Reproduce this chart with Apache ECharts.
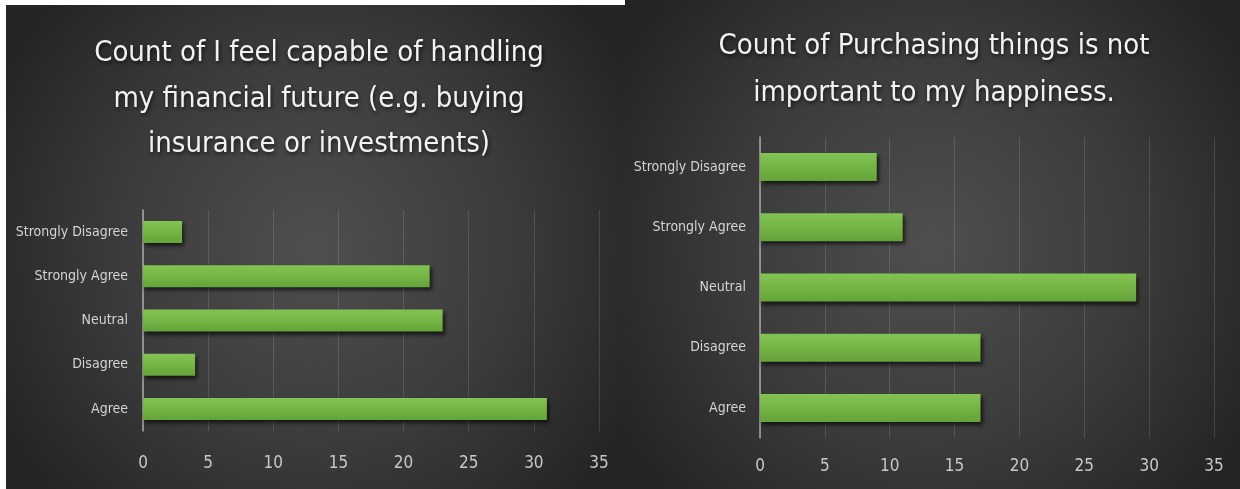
<!DOCTYPE html>
<html>
<head>
<meta charset="utf-8">
<script src="https://cdn.jsdelivr.net/npm/echarts@6/dist/echarts.min.js"></script>
<style>
  html, body { margin: 0; padding: 0; background: #ffffff; }
  #chart { width: 1240px; height: 489px; }
</style>
</head>
<body>
<div id="chart"></div>
<script>
// Survey answer categories (bottom to top on the axis)
const categories = ['Agree', 'Disagree', 'Neutral', 'Strongly Agree', 'Strongly Disagree'];

// Counts for "I feel capable of handling my financial future"
const capableCounts = [31, 4, 23, 22, 3];

// Counts for "Purchasing things is not important to my happiness."
const purchasingCounts = [17, 17, 29, 11, 9];

// Value-axis tick labels
const tickLabels = ['0', '5', '10', '15', '20', '25', '30', '35'];

const leftTitle = 'Count of I feel capable of handling\nmy financial future (e.g. buying\ninsurance or investments)';
const rightTitle = 'Count of Purchasing things is not\nimportant to my happiness.';

const narrow = '"DejaVu Sans Condensed", sans-serif';

const panelFill = {
  type: 'radial', x: 0.5, y: 0.5, r: 0.75,
  colorStops: [
    { offset: 0, color: '#4f4f4f' },
    { offset: 0.55, color: '#3b3b3b' },
    { offset: 1, color: '#242424' }
  ]
};

const barFill = {
  type: 'linear', x: 0, y: 0, x2: 0, y2: 1,
  colorStops: [
    { offset: 0, color: '#82c453' },
    { offset: 0.5, color: '#74b545' },
    { offset: 1, color: '#64a338' }
  ]
};

function valueAxis(gridIndex, margin) {
  return {
    type: 'value', gridIndex: gridIndex, min: 0, max: 35, interval: 5,
    axisLine: { show: false }, axisTick: { show: false },
    splitLine: { show: true, lineStyle: { color: 'rgba(255,255,255,0.13)', width: 1 } },
    axisLabel: {
      color: '#c8c8c8', fontFamily: narrow, fontSize: 17, margin: margin,
      formatter: function (v) { return tickLabels[Math.round(v / 5)]; }
    }
  };
}

function categoryAxis(gridIndex, margin, size) {
  return {
    type: 'category', gridIndex: gridIndex, data: categories,
    axisLine: { show: true, lineStyle: { color: '#a8a8a8', width: 1.5 } },
    axisTick: { show: false },
    axisLabel: { color: '#d4d4d4', fontFamily: narrow, fontSize: size, margin: margin }
  };
}

function barSeries(index, values, width) {
  return {
    type: 'bar', xAxisIndex: index, yAxisIndex: index, data: values,
    barWidth: width,
    itemStyle: {
      color: barFill,
      shadowColor: 'rgba(0,0,0,0.65)', shadowBlur: 4,
      shadowOffsetX: 2, shadowOffsetY: 3
    },
    silent: true
  };
}

const titleText = {
  color: '#f2f2f2', fontFamily: narrow, fontWeight: 'normal',
  textShadowColor: 'rgba(0,0,0,0.7)', textShadowBlur: 4,
  textShadowOffsetX: 1, textShadowOffsetY: 2
};

const chart = echarts.init(document.getElementById('chart'), null, { renderer: 'canvas' });

chart.setOption({
  backgroundColor: '#ffffff',
  animation: false,
  graphic: [
    { type: 'rect', z: -10, shape: { x: 6, y: 5, width: 619, height: 484 }, style: { fill: panelFill } },
    { type: 'rect', z: -10, shape: { x: 625, y: 0, width: 615, height: 489 }, style: { fill: panelFill } }
  ],
  title: [
    {
      text: leftTitle, left: 314, top: 26, textAlign: 'center',
      textStyle: Object.assign({}, titleText, { fontSize: 29, lineHeight: 45.5 })
    },
    {
      text: rightTitle, left: 929, top: 18, textAlign: 'center',
      textStyle: Object.assign({}, titleText, { fontSize: 29, lineHeight: 47 })
    }
  ],
  grid: [
    { left: 143, top: 210, width: 456, height: 221 },
    { left: 760, top: 137, width: 454, height: 301 }
  ],
  xAxis: [valueAxis(0, 24), valueAxis(1, 20)],
  yAxis: [categoryAxis(0, 15, 14), categoryAxis(1, 14, 14)],
  series: [
    barSeries(0, capableCounts, 22),
    barSeries(1, purchasingCounts, 28)
  ]
});
</script>
</body>
</html>
